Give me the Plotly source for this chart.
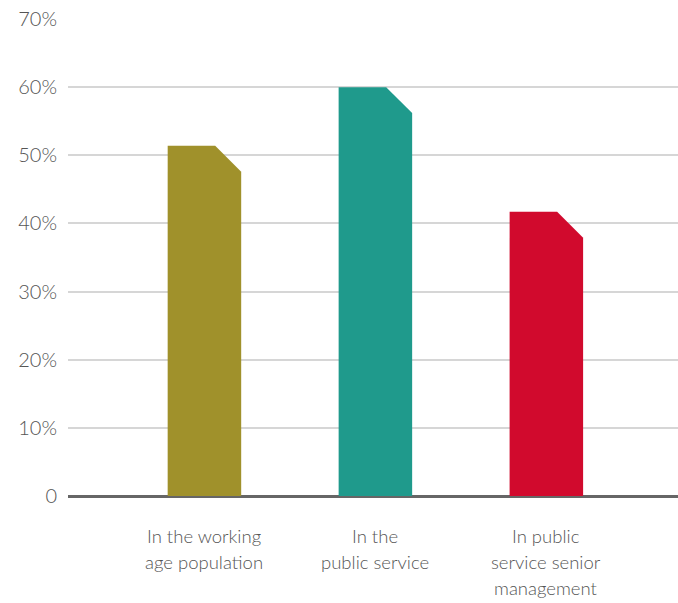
import plotly.graph_objects as go

# Share of women, by group (percent)
categories = [
    ["In the working", "age population"],
    ["In the", "public service"],
    ["In public", "service senior", "management"],
]
values = [51.4, 60.0, 41.7]
colors = ["#A0912B", "#1F9A8C", "#D10A2D"]
y_ticks = [0, 10, 20, 30, 40, 50, 60, 70]
y_tick_labels = ["0", "10%", "20%", "30%", "40%", "50%", "60%", "70%"]

BAR_WIDTH = 0.43
CUT_X = 0.152   # horizontal size of the clipped top-right corner (x units)
CUT_Y = 3.8     # vertical size of the clipped corner (percentage points)

FONT = "Lato"
TEXT_COLOR = "#555555"
LINE_GAP = 26   # px between category label lines
FIRST_LINE = 40  # px from the baseline to the first label line centre

fig = go.Figure()

for i, (v, c) in enumerate(zip(values, colors)):
    x0, x1 = i - BAR_WIDTH / 2, i + BAR_WIDTH / 2
    xs = [x0, x0, x1 - CUT_X, x1, x1, x0]
    ys = [0, v, v, v - CUT_Y, 0, 0]
    fig.add_trace(go.Scatter(
        x=xs, y=ys, mode="lines", fill="toself",
        fillcolor=c, line=dict(width=0, color=c),
        hoverinfo="skip", showlegend=False,
    ))

# Category labels, one annotation per line for even line spacing
for i, lines in enumerate(categories):
    for k, line in enumerate(lines):
        fig.add_annotation(
            x=i, xref="x", y=0, yref="paper",
            text=line, showarrow=False,
            xanchor="center", yanchor="middle",
            yshift=-(FIRST_LINE + k * LINE_GAP),
            font=dict(family=FONT, size=18.5, color=TEXT_COLOR, weight=300),
        )

fig.update_layout(
    width=678, height=603,
    margin=dict(l=68, r=0, t=19, b=107),
    paper_bgcolor="white", plot_bgcolor="white",
    font=dict(family=FONT, size=18, color=TEXT_COLOR, weight=300),
    showlegend=False,
    xaxis=dict(
        range=[-0.798, 2.77],
        showticklabels=False,
        showgrid=False, zeroline=False, showline=False, ticks="",
    ),
    yaxis=dict(
        range=[0, 70],
        tickmode="array", tickvals=y_ticks, ticktext=y_tick_labels,
        showgrid=True, gridcolor="#D6D6D6", gridwidth=2,
        zeroline=True, zerolinecolor="#666666", zerolinewidth=2.5,
        showline=False, ticks="", ticklabelstandoff=10,
        tickfont=dict(family=FONT, size=20, color=TEXT_COLOR, weight=300),
    ),
)

fig.write_html("out.html")
